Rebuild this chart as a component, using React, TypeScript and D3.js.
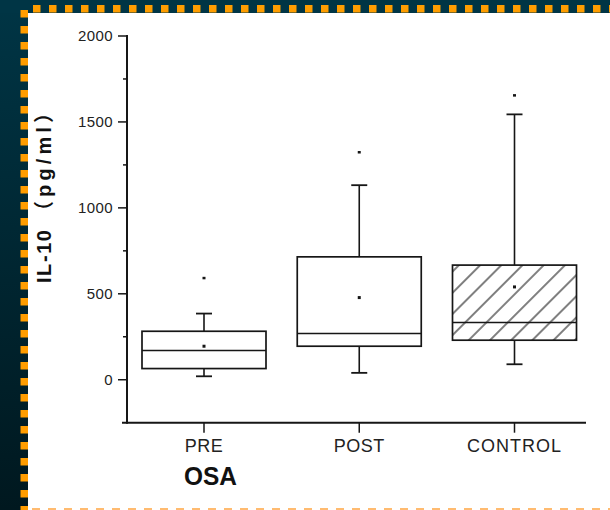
import React from "react";
import * as d3 from "d3";

const categories = ["PRE", "POST", "CONTROL"];
const q1 = [65, 195, 230];
const median = [170, 269, 333];
const q3 = [282, 715, 667];
const whiskerLow = [20, 40, 90];
const whiskerHigh = [385, 1132, 1544];
const means = [195, 478, 540];
const outliers = [593, 1325, 1656];
const hatched = [false, false, true];
const majorTicks = [0, 500, 1000, 1500, 2000];
const minorTicks = [250, 750, 1250, 1750];

const W = 610;
const H = 510;

export default function App() {
  const y = d3.scaleLinear().domain([-250, 2000]).range([422.7, 36]);
  const x = d3.scalePoint<string>().domain(categories).range([204, 514.5]).padding(0);
  const axisX = 127;
  const axisY = y(-250);
  const boxHalf = 62;
  const capHalf = 8;
  const ink = "#161616";

  const topDots = d3.range(33, W, 16);
  const leftDots = d3.range(10, H, 16);
  const bottomDashes = d3.range(32, W, 16);

  return (
    <svg width={W} height={H} style={{ position: "absolute", left: 0, top: 0, display: "block" }}>
      <defs>
        <linearGradient id="bgGrad" x1="0" y1="0" x2="0" y2="1">
          <stop offset="0" stopColor="#003545" />
          <stop offset="1" stopColor="#00181f" />
        </linearGradient>
        <pattern id="hatch" patternUnits="userSpaceOnUse" width="15" height="15" patternTransform="rotate(45)">
          <line x1="2" y1="0" x2="2" y2="15" stroke={ink} strokeWidth="1.1" />
        </pattern>
      </defs>
      <rect x={0} y={0} width={W} height={H} fill="url(#bgGrad)" />
      <rect x={0} y={0} width={W} height={13} fill="#003545" />
      <rect x={28} y={13} width={W - 28} height={H - 13} fill="#ffffff" />
      {topDots.map((d) => (
        <rect key={"t" + d} x={d} y={5} width={7.5} height={7.5} fill="#ff9d00" />
      ))}
      {leftDots.map((d) => (
        <rect key={"l" + d} x={20.5} y={d} width={7.5} height={7.5} fill="#ff9d00" />
      ))}
      {bottomDashes.map((d) => (
        <rect key={"b" + d} x={d} y={508} width={8} height={2} fill="#ffbb70" />
      ))}

      {/* axes */}
      <line x1={axisX} y1={y(2000) - 1} x2={axisX} y2={axisY + 1} stroke={ink} strokeWidth={2} />
      <line x1={axisX - 5} y1={axisY} x2={586} y2={axisY} stroke={ink} strokeWidth={2} />
      {majorTicks.map((t) => (
        <g key={"mj" + t}>
          <line x1={axisX - 9} x2={axisX} y1={y(t)} y2={y(t)} stroke={ink} strokeWidth={1.5} />
          <text
            x={113}
            y={y(t) + 5}
            textAnchor="end"
            fontFamily="'Liberation Sans', Arial, sans-serif"
            fontSize={15}
            letterSpacing={0.4}
            fill="#222"
          >
            {t}
          </text>
        </g>
      ))}
      {minorTicks.map((t) => (
        <line key={"mn" + t} x1={axisX - 4} x2={axisX} y1={y(t)} y2={y(t)} stroke={ink} strokeWidth={1.5} />
      ))}
      {categories.map((c) => (
        <g key={"xt" + c}>
          <line x1={x(c)!} x2={x(c)!} y1={axisY} y2={axisY + 10} stroke={ink} strokeWidth={1.5} />
          <text
            x={x(c)!}
            y={452}
            textAnchor="middle"
            fontFamily="'Liberation Sans', Arial, sans-serif"
            fontSize={18}
            letterSpacing={c === "CONTROL" ? 1 : 0.5}
            fill="#222"
          >
            {c}
          </text>
        </g>
      ))}
      <text
        x={184}
        y={485}
        fontFamily="'Liberation Sans', Arial, sans-serif"
        fontWeight="bold"
        fontSize={26}
        textLength={53}
        lengthAdjust="spacingAndGlyphs"
        fill="#111"
      >
        OSA
      </text>
      <g transform="translate(51,283) rotate(-90)">
        <text
          x={0}
          y={0}
          fontFamily="'Liberation Sans', Arial, sans-serif"
          fontWeight="bold"
          fontSize={20}
          textLength={53}
          lengthAdjust="spacing"
          fill="#111"
        >
          IL-10
        </text>
        <text
          x={62}
          y={0}
          fontFamily="'Liberation Sans', 'Noto Sans CJK SC', Arial, sans-serif"
          fontWeight="bold"
          fontSize={20}
          textLength={118}
          lengthAdjust="spacing"
          fill="#111"
        >
          （pg/ml）
        </text>
      </g>

      {/* boxes */}
      {categories.map((c, i) => {
        const cx = x(c)!;
        return (
          <g key={"box" + c}>
            <line x1={cx} x2={cx} y1={y(q3[i])} y2={y(whiskerHigh[i])} stroke={ink} strokeWidth={1.6} />
            <line x1={cx} x2={cx} y1={y(q1[i])} y2={y(whiskerLow[i])} stroke={ink} strokeWidth={1.6} />
            <line x1={cx - capHalf} x2={cx + capHalf} y1={y(whiskerHigh[i])} y2={y(whiskerHigh[i])} stroke={ink} strokeWidth={1.8} />
            <line x1={cx - capHalf} x2={cx + capHalf} y1={y(whiskerLow[i])} y2={y(whiskerLow[i])} stroke={ink} strokeWidth={1.8} />
            <rect
              x={cx - boxHalf}
              y={y(q3[i])}
              width={boxHalf * 2}
              height={y(q1[i]) - y(q3[i])}
              fill={hatched[i] ? "url(#hatch)" : "#fff"}
              stroke={ink}
              strokeWidth={1.7}
            />
            <line x1={cx - boxHalf} x2={cx + boxHalf} y1={y(median[i])} y2={y(median[i])} stroke={ink} strokeWidth={1.7} />
            <rect x={cx - 1.5} y={y(means[i]) - 1.5} width={3} height={3} fill={ink} />
            <rect x={cx - 1.5} y={y(outliers[i]) - 1} width={3} height={2.5} fill={ink} />
          </g>
        );
      })}
    </svg>
  );
}
